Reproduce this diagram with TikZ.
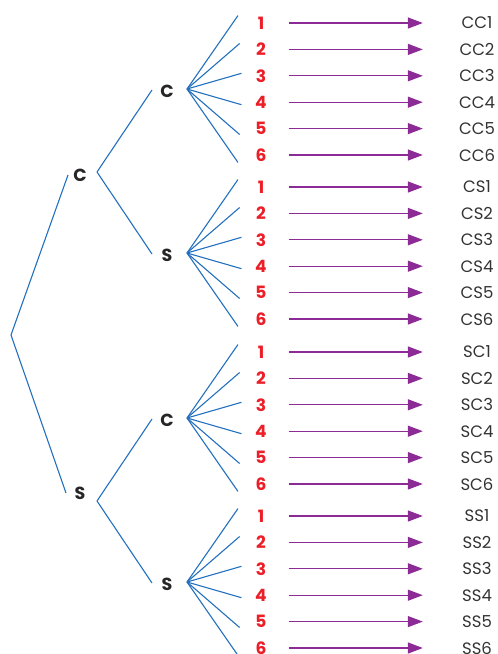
\documentclass[tikz,border=0pt]{standalone}
\usepackage{fontspec}
\setmainfont{Poppins}
\usetikzlibrary{arrows.meta,positioning}
\definecolor{treeblue}{RGB}{35,112,190}
\definecolor{numred}{RGB}{236,30,40}
\definecolor{arrpurple}{RGB}{140,42,150}

\begin{document}
\begin{tikzpicture}[x=1pt, y=-1pt,
    branch/.style={draw=treeblue, line width=1.1pt},
    letter/.style={font=\bfseries\fontsize{17.5}{17.5}\selectfont, text=black!85, inner sep=0pt},
    num/.style={font=\bfseries\fontsize{17}{17}\selectfont, text=numred, minimum width=56pt, inner sep=0pt},
    outcome/.style={font=\fontsize{16.5}{16.5}\selectfont, text=black!80, minimum width=108pt, inner sep=0pt},
    arrow/.style={-{Triangle[length=15pt,width=11pt]}, draw=arrpurple, line width=1.3pt}]
  \useasboundingbox (0,0) rectangle (498,654);
  \coordinate (r) at (11,335);
  % first toss
  \node[letter] (LC) at (80,175) {C};
  \coordinate (inC) at (68,175);
  \coordinate (vC) at (97,172);
  \node[letter] (LS) at (80,493) {S};
  \coordinate (inS) at (66,493);
  \coordinate (vS) at (97,501);
  \draw[branch] (inC) -- (r) -- (inS);
  % second toss and die
  \foreach \g/\p/\k/\sy in {CC/C/C/23, CS/C/S/187, SC/S/C/352, SS/S/S/516} {
    \pgfmathsetmacro\my{\sy+66}
    \node[letter] (L\g) at (167,\my+2) {\k};
    \coordinate (in\g) at (152,\my+1);
    \coordinate (f\g) at (187,\my);
    \draw[branch] (v\p) -- (in\g);
    \foreach \i in {1,...,6} {
      \pgfmathsetmacro\ry{\sy+26.4*(\i-1)}
      \node[num] (n\g\i) at (261,\ry) {\i};
      \node[outcome] (o\g\i) at (477,\ry) {\g\i};
      \draw[branch, shorten >=-9pt] (f\g) -- (n\g\i.west);
      \draw[arrow] (n\g\i) -- (o\g\i);
    }
  }
\end{tikzpicture}
\end{document}
